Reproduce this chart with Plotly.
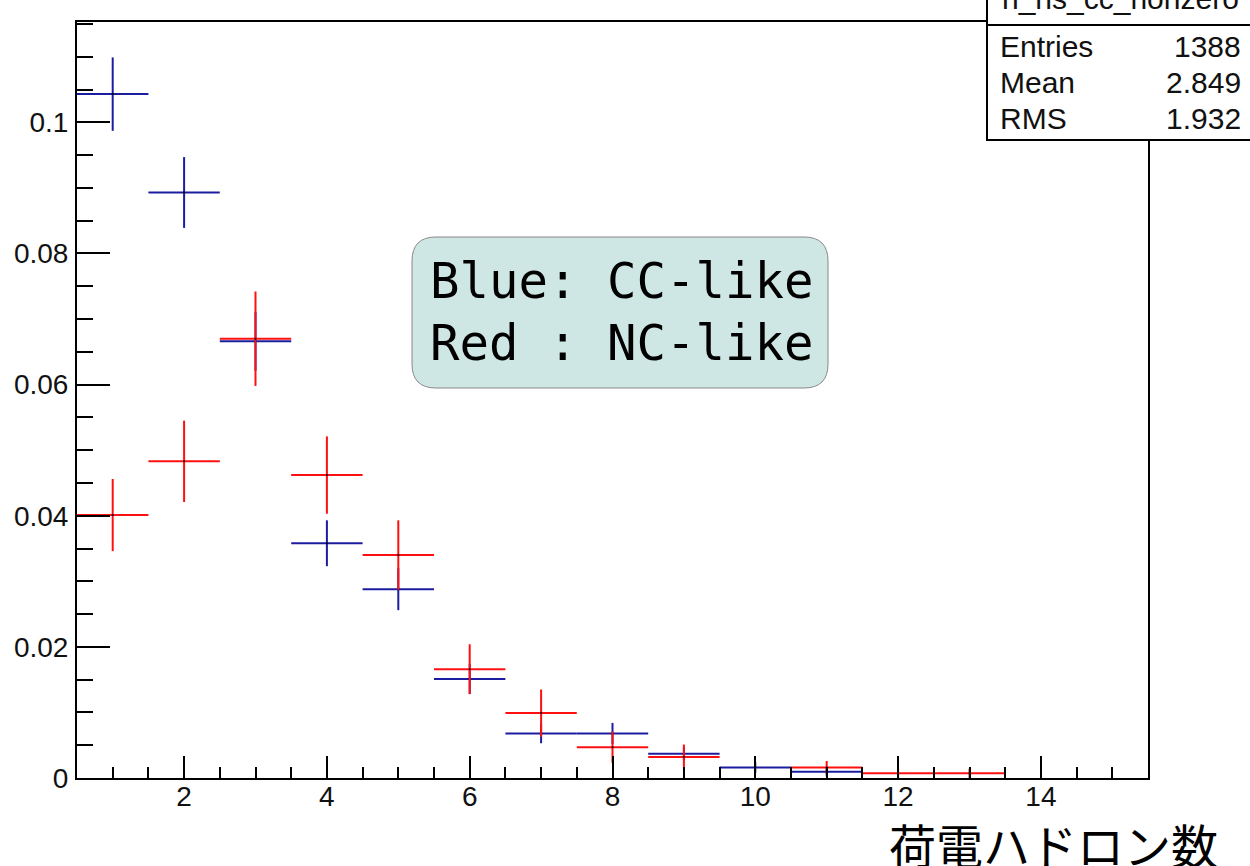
import plotly.graph_objects as go

# ---- data ----
blue_bins = [1, 2, 3, 4, 5, 6, 7, 8, 9, 10, 11]
blue_vals = [0.1043, 0.0893, 0.0666, 0.0358, 0.0288, 0.0151, 0.0068, 0.0068, 0.0037, 0.0016, 0.00097]
blue_err = [0.0056, 0.0054, 0.0045, 0.0035, 0.0032, 0.0023, 0.0015, 0.0016, 0.0010, 0.0008, 0.0007]

red_bins = [1, 2, 3, 4, 5, 6, 7, 8, 9, 11, 12, 13]
red_vals = [0.0401, 0.0483, 0.0670, 0.0462, 0.0340, 0.0166, 0.0099, 0.0047, 0.0032, 0.0016, 0.00071, 0.00071]
red_err = [0.0055, 0.0062, 0.0072, 0.0059, 0.0053, 0.0038, 0.0036, 0.0024, 0.0019, 0.0010, 0.0007, 0.0007]

y_tickvals = [0, 0.02, 0.04, 0.06, 0.08, 0.1]
y_ticktext = ["0", "0.02", "0.04", "0.06", "0.08", "0.1"]
x_tickvals = [2, 4, 6, 8, 10, 12, 14]
x_ticktext = ["2", "4", "6", "8", "10", "12", "14"]

stat_names = ["Entries", "Mean", "RMS"]
stat_values = ["1388", "2.849", "1.932"]
hist_name = "h_ns_cc_nonzero"
legend_lines = ["Blue: CC-like", "Red : NC-like"]
x_title = "荷電ハドロン数"

# ---- layout geometry (pixels) ----
W, H = 1250, 866
L, R, T, B = 77, 1148, 22, 778


def px(xp):
    return (xp - L) / (R - L)


def py(yp):
    return (B - yp) / (B - T)


BLUE = "#1c1ca0"
RED = "#ff1010"

fig = go.Figure()
for xs, ys, es, col in [(blue_bins, blue_vals, blue_err, BLUE), (red_bins, red_vals, red_err, RED)]:
    fig.add_trace(go.Scatter(
        x=xs, y=ys, mode="markers",
        marker=dict(size=2, color="black", line=dict(width=0)),
        error_x=dict(type="constant", value=0.5, width=0, thickness=2, color=col),
        error_y=dict(type="data", array=es, width=0, thickness=2, color=col),
        showlegend=False, hoverinfo="skip",
    ))

axis_font = dict(family="Liberation Sans, Arial, sans-serif", size=28, color="#111")
fig.update_xaxes(
    range=[0.5, 15.5], showgrid=False, zeroline=False, automargin=False,
    showline=True, linecolor="black", linewidth=2, mirror=True,
    ticks="inside", ticklen=22, tickwidth=2, tickcolor="black",
    tickvals=x_tickvals, ticktext=x_ticktext, tickfont=axis_font,
    ticklabelstandoff=-8,
    minor=dict(ticks="inside", dtick=0.5, tick0=0, ticklen=11, tickwidth=2, tickcolor="black"),
)
fig.update_yaxes(
    range=[0, 0.1153], showgrid=False, zeroline=False, automargin=False,
    showline=True, linecolor="black", linewidth=2, mirror=True,
    ticks="inside", ticklen=33, tickwidth=2, tickcolor="black",
    tickvals=y_tickvals, ticktext=y_ticktext, tickfont=axis_font,
    ticklabelstandoff=1,
    minor=dict(ticks="inside", dtick=0.005, tick0=0, ticklen=16, tickwidth=2, tickcolor="black"),
)

shapes = []
annotations = []

# rounded legend box
x0, x1, y0, y1, r = 412, 828, 237, 388, 24
path = (f"M {px(x0 + r)} {py(y0)} L {px(x1 - r)} {py(y0)} Q {px(x1)} {py(y0)} {px(x1)} {py(y0 + r)} "
        f"L {px(x1)} {py(y1 - r)} Q {px(x1)} {py(y1)} {px(x1 - r)} {py(y1)} "
        f"L {px(x0 + r)} {py(y1)} Q {px(x0)} {py(y1)} {px(x0)} {py(y1 - r)} "
        f"L {px(x0)} {py(y0 + r)} Q {px(x0)} {py(y0)} {px(x0 + r)} {py(y0)} Z")
shapes.append(dict(type="path", path=path, xref="paper", yref="paper",
                   fillcolor="#cfe7e4", line=dict(color="#888888", width=1), layer="above"))
for i, line in enumerate(legend_lines):
    annotations.append(dict(text=line, x=px(428), y=py(281 + 62 * i), xref="paper", yref="paper",
                            xanchor="left", yanchor="middle", showarrow=False,
                            font=dict(family="DejaVu Sans Mono, monospace", size=49, color="black")))

# stats box
sx0, sx1, sy0, sy1 = 987, 1262, -6, 140
shapes.append(dict(type="rect", xref="paper", yref="paper", x0=px(sx0), x1=px(sx1), y0=py(sy1), y1=py(sy0),
                   fillcolor="white", line=dict(color="black", width=2), layer="above"))
shapes.append(dict(type="line", xref="paper", yref="paper", x0=px(sx0), x1=px(sx1), y0=py(25), y1=py(25),
                   line=dict(color="black", width=2), layer="above"))
stat_font = dict(family="Liberation Sans, Arial, sans-serif", size=30, color="#111")
annotations.append(dict(text=hist_name, x=px(1120), y=py(-1), xref="paper", yref="paper",
                        xanchor="center", yanchor="middle", showarrow=False, font=stat_font))
for i, (n, v) in enumerate(zip(stat_names, stat_values)):
    yy = py(46 + 36 * i)
    annotations.append(dict(text=n, x=px(998), y=yy, xref="paper", yref="paper",
                            xanchor="left", yanchor="middle", showarrow=False, font=stat_font))
    annotations.append(dict(text=v, x=px(1243), y=yy, xref="paper", yref="paper",
                            xanchor="right", yanchor="middle", showarrow=False, font=stat_font))

# x axis title
annotations.append(dict(text=x_title, x=px(1053), y=py(843), xref="paper", yref="paper",
                        xanchor="center", yanchor="middle", showarrow=False,
                        font=dict(family="Noto Sans CJK JP", size=47, color="black")))

fig.update_layout(
    width=W, height=H, autosize=False,
    margin=dict(l=L, r=W - R, t=T, b=H - B, pad=0, autoexpand=False),
    paper_bgcolor="white", plot_bgcolor="white",
    shapes=shapes, annotations=annotations,
)

fig.write_html("out.html")
